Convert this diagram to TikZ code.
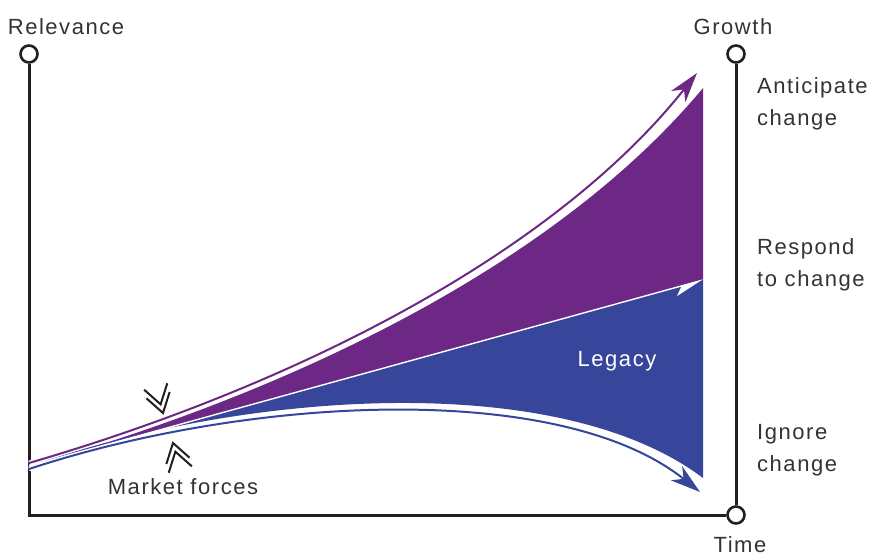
\documentclass[tikz,border=0pt]{standalone}
\usepackage{fontspec}
\setmainfont{Liberation Sans}[LetterSpace=7]
\usetikzlibrary{arrows.meta}
\definecolor{anticipate}{RGB}{108,40,132}
\definecolor{legacyblue}{RGB}{55,70,155}
\definecolor{axisgray}{RGB}{35,31,32}
\definecolor{labelgray}{RGB}{51,51,51}
\tikzset{
	axisline/.style={line width=3pt, axisgray},
	axisend/.style={circle, draw=axisgray, line width=2.6pt, fill=white, minimum size=17pt, inner sep=0pt},
	axislabel/.style={text=labelgray, font=\fontsize{22}{26}\selectfont},
	sidelabel/.style={text=labelgray, align=left, anchor=west, inner xsep=0pt, font=\fontsize{22}{32}\selectfont},
	trend/.style={line width=2pt},
	casing/.style={line width=4.6pt, white},
	chevron/.style={line width=2pt, axisgray},
}
\begin{document}
\begin{tikzpicture}[x=1pt,y=-1pt]
			\useasboundingbox (0,0) rectangle (870,557);
			% Axes
			\def\leftx{29}
			\def\rightx{736}
			\def\topy{54}
			\def\boty{515}

			\node[axisend] (relend) at (\leftx,\topy) {};
			\node[axisend] (growthend) at (\rightx,\topy) {};
			\node[axisend] (timeend) at (\rightx,\boty) {};
			\coordinate (corner) at (\leftx,\boty);
			\draw[axisline] (relend) -- (corner) -- (timeend);
			\draw[axisline] (growthend) -- (timeend);

			\node[axislabel] (relevance) at (66,27) {Relevance};
			\node[axislabel] (growth) at (733,27) {Growth};
			\node[axislabel] (time) at (740,545) {Time};

			% Spread of outcomes
			\coordinate (start) at (\leftx,466);
			\coordinate (topend) at (703,88);
			\coordinate (midend) at (703,280);
			\coordinate (lowend) at (703,478);
			\fill[anticipate] (start) .. controls (300,390) and (560,260) .. (topend) -- (midend) -- cycle;
			\fill[legacyblue] (start) -- (midend) -- (lowend) .. controls (560,370) and (250,390) .. (start) -- cycle;
			\draw[line width=1.4pt, white, -{Stealth[harpoon,swap,length=27pt,width=17pt,inset=7pt]}] (start) -- (midend);

			\coordinate (upstart) at (\leftx,463);
			\coordinate (uptip) at (697,73);
			\draw[casing] (upstart) .. controls (300,384) and (555,252) .. (uptip);
			\draw[trend, anticipate, -{Stealth[length=30pt,width=18pt,inset=9pt]}] (upstart) .. controls (300,384) and (555,252) .. (uptip);

			\coordinate (lowstart) at (\leftx,469);
			\coordinate (lowtip) at (700,492);
			\draw[casing] (lowstart) .. controls (250,396) and (560,380) .. (lowtip);
			\draw[trend, legacyblue, -{Stealth[length=30pt,width=18pt,inset=9pt]}] (lowstart) .. controls (250,396) and (560,380) .. (lowtip);

			% Market forces chevrons
			\begin{scope}[shift={(163,413)}, rotate=15.4]
				\foreach \off in {0,-9}
					\draw[chevron] (-12,\off-18.5) -- (0,\off) -- (12,\off-18.5);
			\end{scope}
			\begin{scope}[shift={(173,443)}, rotate=15.4]
				\foreach \off in {0,9}
					\draw[chevron] (-12,\off+18.5) -- (0,\off) -- (12,\off+18.5);
			\end{scope}

			\node[text=white, font=\fontsize{22}{26}\selectfont] (legacy) at (617,361) {Legacy};
			\node[axislabel] (forces) at (183,487) {Market forces};

			% Responses
			\node[sidelabel] (anticipatetext) at (757,104) {Anticipate\\change};
			\node[sidelabel] (respondtext) at (757,265) {Respond\\to change};
			\node[sidelabel] (ignoretext) at (757,450) {Ignore\\change};
		\end{tikzpicture}
\end{document}
